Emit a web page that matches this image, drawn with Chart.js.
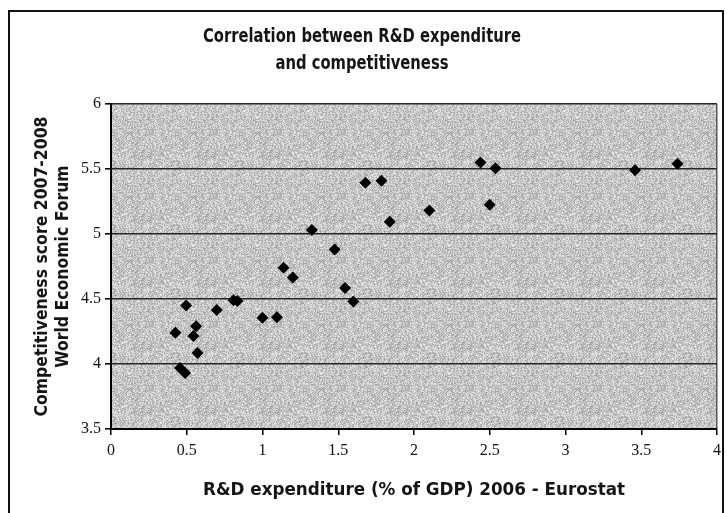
<!DOCTYPE html>
<html>
<head>
<meta charset="utf-8">
<script src="https://cdn.jsdelivr.net/npm/chart.js@4.4.1/dist/chart.umd.min.js"></script>
<style>
  html, body { margin: 0; padding: 0; background: #fff; }
  #wrap { width: 727px; height: 513px; }
</style>
</head>
<body>
<div id="wrap"><canvas id="RdChart" width="727" height="513"></canvas></div>
<script>
// R&D expenditure (% of GDP) vs competitiveness score, one point per country
const rdExpenditure = [0.425, 0.456, 0.489, 0.496, 0.544, 0.562, 0.571, 0.698, 0.809, 0.835,
  1.0, 1.095, 1.139, 1.2, 1.326, 1.476, 1.545, 1.6, 1.679, 1.785,
  1.84, 2.102, 2.439, 2.5, 2.538, 3.459, 3.739];
const competitiveness = [4.24, 3.97, 3.93, 4.45, 4.215, 4.29, 4.085, 4.415, 4.49, 4.485,
  4.355, 4.36, 4.74, 4.665, 5.03, 4.88, 4.585, 4.48, 5.395, 5.41,
  5.095, 5.18, 5.55, 5.225, 5.505, 5.49, 5.54];
const xTicks = [0, 0.5, 1, 1.5, 2, 2.5, 3, 3.5, 4];
const yTicks = [3.5, 4, 4.5, 5, 5.5, 6];

const titleLines = ['Correlation between R&D expenditure', 'and competitiveness'];
const xTitle = 'R&D expenditure (% of GDP) 2006 - Eurostat';
const yTitleLines = ['Competitiveness score 2007-2008', 'World Economic Forum'];

const points = rdExpenditure.map((x, i) => ({ x: x, y: competitiveness[i] }));

const sans = "'DejaVu Sans Condensed', 'DejaVu Sans', sans-serif";
const serif = "'Liberation Serif', 'DejaVu Serif', serif";

// speckled grey tile for the plot background (fixed hash, only a texture)
function stipple(c) {
  const n = 64;
  const t = document.createElement('canvas');
  t.width = n; t.height = n;
  const g = t.getContext('2d');
  const img = g.createImageData(n, n);
  for (let y = 0; y < n; y++) {
    for (let x = 0; x < n; x++) {
      let h = Math.imul(x, 374761393) + Math.imul(y, 668265263);
      h = Math.imul(h ^ (h >>> 13), 1274126177);
      const r = ((h ^ (h >>> 16)) >>> 0) / 4294967296;
      const v = Math.round(158 + r * 78);
      const i = (y * n + x) * 4;
      img.data[i] = img.data[i + 1] = img.data[i + 2] = v;
      img.data[i + 3] = 255;
    }
  }
  g.putImageData(img, 0, 0);
  return c.createPattern(t, 'repeat');
}

// draw a text squeezed/stretched so it spans the given width
function drawFitted(ctx, text, x, y, width) {
  const s = width / ctx.measureText(text).width;
  ctx.save();
  ctx.translate(x, y);
  ctx.scale(s, 1);
  ctx.fillText(text, 0, 0);
  ctx.restore();
  return s;
}

const framePlugin = {
  id: 'frame',
  beforeDraw(chart) {
    const { ctx, chartArea: a } = chart;
    ctx.save();
    ctx.fillStyle = stipple(ctx);
    ctx.fillRect(a.left, a.top, a.right - a.left, a.bottom - a.top);
    ctx.strokeStyle = '#111';
    ctx.lineWidth = 2;
    ctx.strokeRect(9, 11, 714, 510);
    ctx.restore();
  },
  afterDraw(chart) {
    const { ctx, chartArea: a } = chart;
    const cx = (a.left + a.right) / 2;
    const cy = (a.top + a.bottom) / 2;
    ctx.save();
    ctx.fillStyle = '#151515';
    ctx.textAlign = 'center';
    ctx.textBaseline = 'alphabetic';

    // main title, two lines
    ctx.font = 'bold 19px ' + sans;
    const s = drawFitted(ctx, titleLines[0], 362, 42, 318);
    ctx.save();
    ctx.translate(362, 69);
    ctx.scale(s, 1);
    ctx.fillText(titleLines[1], 0, 0);
    ctx.restore();

    // x axis title
    ctx.font = 'bold 18px ' + sans;
    drawFitted(ctx, xTitle, cx, 495, 422);

    // y axis title, rotated
    ctx.font = 'bold 18px ' + sans;
    ctx.save();
    ctx.translate(47, cy);
    ctx.rotate(-Math.PI / 2);
    const sy = drawFitted(ctx, yTitleLines[0], 0, 0, 300);
    ctx.restore();
    ctx.save();
    ctx.translate(68, cy);
    ctx.rotate(-Math.PI / 2);
    ctx.scale(sy, 1);
    ctx.fillText(yTitleLines[1], 0, 0);
    ctx.restore();

    ctx.restore();
  }
};

const ctx = document.getElementById('RdChart').getContext('2d');

new Chart(ctx, {
  type: 'scatter',
  data: {
    datasets: [{
      label: 'Countries',
      data: points,
      pointStyle: 'rectRot',
      pointRadius: 6,
      pointHoverRadius: 6,
      backgroundColor: '#000',
      borderColor: '#000',
      borderWidth: 0
    }]
  },
  options: {
    responsive: false,
    animation: false,
    layout: { padding: { left: 0, right: 10, top: 104, bottom: 0 } },
    plugins: {
      legend: { display: false },
      tooltip: { enabled: false },
      title: { display: false }
    },
    scales: {
      x: {
        type: 'linear',
        min: 0,
        max: 4,
        afterBuildTicks(scale) { scale.ticks = xTicks.map(v => ({ value: v })); },
        afterFit(scale) { scale.height = 84; },
        border: { color: '#000', width: 2 },
        grid: {
          drawOnChartArea: true,
          color: c => (c.tick && c.tick.value === 4 ? '#555' : 'rgba(0,0,0,0)'),
          tickColor: '#000',
          tickLength: 6,
          lineWidth: 1.5
        },
        ticks: {
          color: '#111',
          padding: 6,
          maxRotation: 0,
          font: { family: serif, size: 16 },
          callback: v => String(v)
        }
      },
      y: {
        type: 'linear',
        min: 3.5,
        max: 6,
        afterBuildTicks(scale) { scale.ticks = yTicks.map(v => ({ value: v })); },
        afterFit(scale) { scale.width = 111; },
        border: { color: '#000', width: 2 },
        grid: {
          color: '#262626',
          tickColor: '#000',
          tickLength: 6,
          lineWidth: 1.6
        },
        ticks: {
          color: '#111',
          padding: 4,
          font: { family: serif, size: 16 },
          callback: v => String(v)
        }
      }
    }
  },
  plugins: [framePlugin]
});
</script>
</body>
</html>
